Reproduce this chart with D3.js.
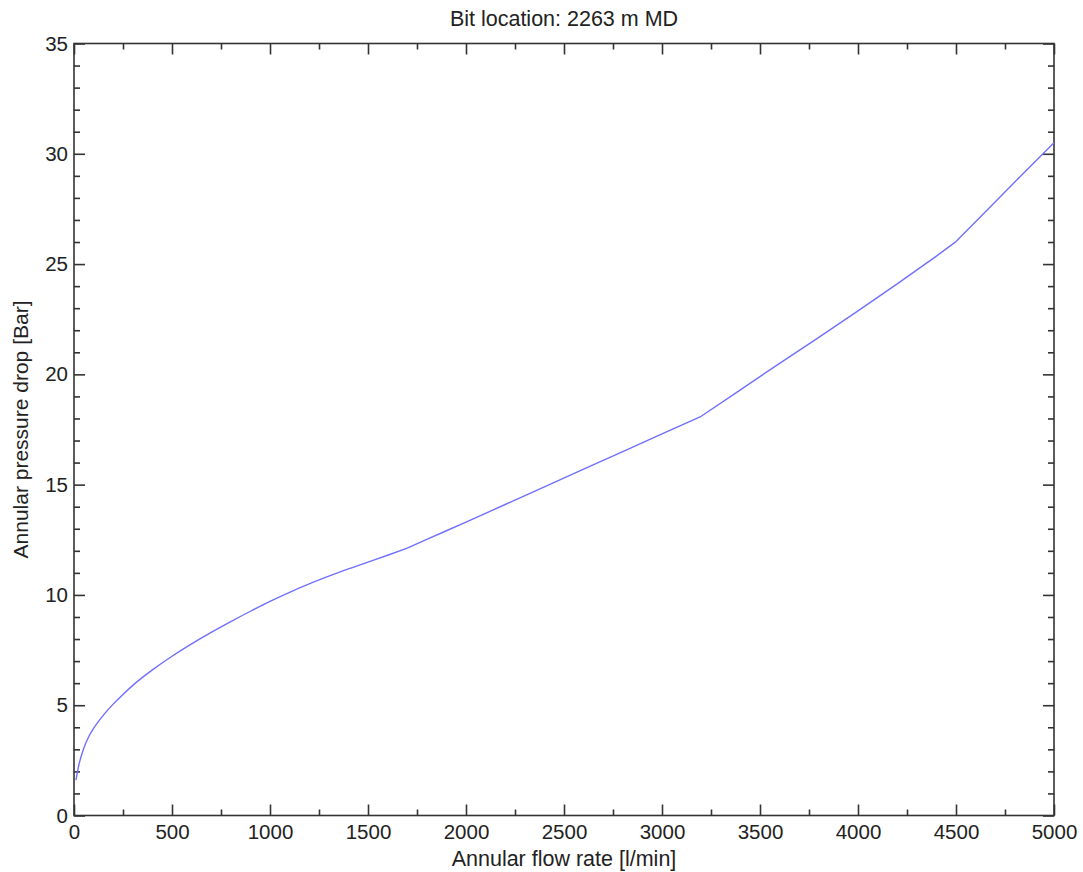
<!DOCTYPE html>
<html>
<head>
<meta charset="utf-8">
<script src="https://cdn.jsdelivr.net/npm/d3@7"></script>
<style>
  html, body { margin: 0; padding: 0; background: #fff; }
  svg { display: block; font-family: "Liberation Sans", Arial, Helvetica, sans-serif; }
  .axis path, .axis line { stroke: #333; }
  .axis text { fill: #222; font-size: 20.5px; }
</style>
</head>
<body>
<svg id="chart" width="1083" height="872"></svg>
<script>
// ---- data ----
const flowRate = [10, 25, 50, 75, 100, 150, 200, 250, 300, 400, 500, 600, 700, 800, 900, 1000,
  1100, 1200, 1300, 1400, 1500, 1600, 1700, 1800, 1900, 2000, 2200, 2400, 2600, 2800,
  3000, 3100, 3200, 3400, 3600, 3800, 4000, 4200, 4400, 4500, 4600, 4800, 5000];
const pressureDrop = [1.6, 2.3, 3.05, 3.57, 3.95, 4.55, 5.05, 5.49, 5.9, 6.6, 7.22, 7.78, 8.3, 8.79, 9.26, 9.71,
  10.12, 10.5, 10.85, 11.18, 11.49, 11.8, 12.12, 12.52, 12.91, 13.3, 14.1, 14.9, 15.7, 16.5,
  17.3, 17.7, 18.1, 19.3, 20.5, 21.68, 22.88, 24.1, 25.36, 26.02, 26.92, 28.72, 30.5];
const xMajorTicks = [0, 500, 1000, 1500, 2000, 2500, 3000, 3500, 4000, 4500, 5000];
const xMinorTicks = [250, 750, 1250, 1750, 2250, 2750, 3250, 3750, 4250, 4750];
const yMajorTicks = [0, 5, 10, 15, 20, 25, 30, 35];
const yMinorTicks = d3.range(0, 36).filter(v => v % 5 !== 0);
const titleText = "Bit location: 2263 m MD";
const xLabel = "Annular flow rate [l/min]";
const yLabel = "Annular pressure drop [Bar]";
const smoothEnd = 1700; // flow rate where the smooth part of the curve ends (kink)

// ---- layout ----
const margin = { left: 74, top: 43.5, right: 1083 - 1054, bottom: 872 - 815.5 };
const W = 1083 - margin.left - margin.right;
const H = 872 - margin.top - margin.bottom;

const svg = d3.select("#chart");
const g = svg.append("g").attr("transform", `translate(${margin.left},${margin.top})`);

const x = d3.scaleLinear().domain([0, 5000]).range([0, W]);
const y = d3.scaleLinear().domain([0, 35]).range([H, 0]);

const MAJ = 11, MIN = 6;

// bottom
g.append("g").attr("class", "axis").attr("transform", `translate(0,${H})`)
  .call(d3.axisBottom(x).tickValues(xMajorTicks).tickSize(-MAJ).tickPadding(9).tickFormat(d3.format("d")))
  .call(s => s.select(".domain").remove());
g.append("g").attr("class", "axis").attr("transform", `translate(0,${H})`)
  .call(d3.axisBottom(x).tickValues(xMinorTicks).tickSize(-MIN).tickFormat(""))
  .call(s => s.select(".domain").remove());
// top
g.append("g").attr("class", "axis")
  .call(d3.axisTop(x).tickValues(xMajorTicks).tickSize(-MAJ).tickFormat(""))
  .call(s => s.select(".domain").remove());
g.append("g").attr("class", "axis")
  .call(d3.axisTop(x).tickValues(xMinorTicks).tickSize(-MIN).tickFormat(""))
  .call(s => s.select(".domain").remove());
// left
g.append("g").attr("class", "axis")
  .call(d3.axisLeft(y).tickValues(yMajorTicks).tickSize(-MAJ).tickPadding(6).tickFormat(d3.format("d")))
  .call(s => s.select(".domain").remove());
g.append("g").attr("class", "axis")
  .call(d3.axisLeft(y).tickValues(yMinorTicks).tickSize(-MIN).tickFormat(""))
  .call(s => s.select(".domain").remove());
// right
g.append("g").attr("class", "axis").attr("transform", `translate(${W},0)`)
  .call(d3.axisRight(y).tickValues(yMajorTicks).tickSize(-MAJ).tickFormat(""))
  .call(s => s.select(".domain").remove());
g.append("g").attr("class", "axis").attr("transform", `translate(${W},0)`)
  .call(d3.axisRight(y).tickValues(yMinorTicks).tickSize(-MIN).tickFormat(""))
  .call(s => s.select(".domain").remove());

g.selectAll(".axis line").attr("stroke-width", 1.6);

// frame
g.append("rect").attr("x", 0).attr("y", 0).attr("width", W).attr("height", H)
  .attr("fill", "none").attr("stroke", "#333").attr("stroke-width", 1.6);

// line: smooth low-flow part, then straight segments with kinks
const pts = flowRate.map((f, i) => [f, pressureDrop[i]]);
const smoothPts = pts.filter(p => p[0] <= smoothEnd);
const straightPts = pts.filter(p => p[0] >= smoothEnd);
const smoothLine = d3.line().x(d => x(d[0])).y(d => y(d[1])).curve(d3.curveMonotoneX);
const straightLine = d3.line().x(d => x(d[0])).y(d => y(d[1]));
g.append("path")
  .attr("fill", "none").attr("stroke", "#7070ff").attr("stroke-width", 1.4)
  .attr("stroke-linejoin", "round")
  .attr("d", smoothLine(smoothPts) + straightLine(straightPts).replace(/^M/, "L"));

// title and labels
svg.append("text").attr("x", margin.left + W / 2).attr("y", 26)
  .attr("text-anchor", "middle").attr("font-size", 21.5).attr("fill", "#222").text(titleText);
svg.append("text").attr("x", margin.left + W / 2).attr("y", 866)
  .attr("text-anchor", "middle").attr("font-size", 21.5).attr("fill", "#222").text(xLabel);
svg.append("text").attr("transform", `translate(28,${margin.top + H / 2}) rotate(-90)`)
  .attr("text-anchor", "middle").attr("font-size", 21).attr("fill", "#222").text(yLabel);
</script>
</body>
</html>
